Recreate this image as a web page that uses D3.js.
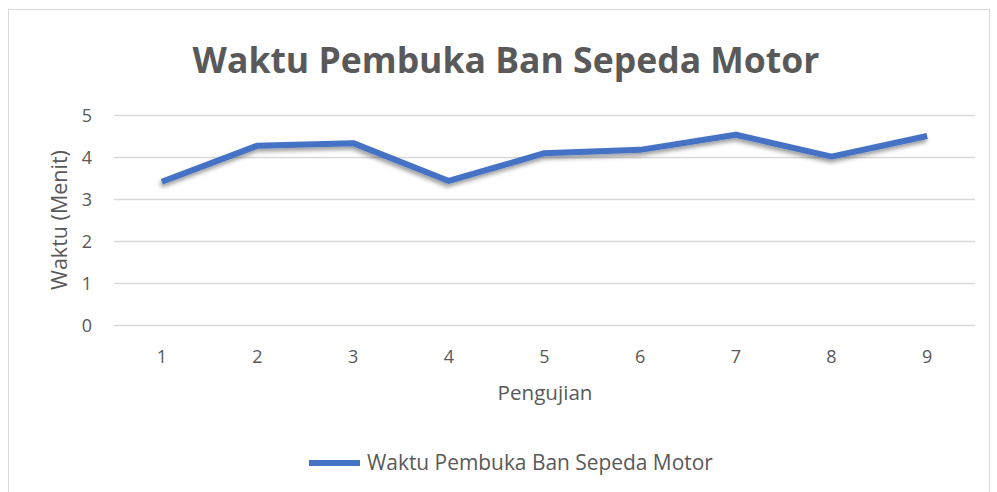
<!DOCTYPE html>
<html>
<head>
<meta charset="utf-8">
<script src="https://cdn.jsdelivr.net/npm/d3@7"></script>
<style>
  body { margin: 0; background: #fff; }
  text { font-family: "Open Sans", "Liberation Sans", sans-serif; fill: #595959; }
</style>
</head>
<body>
<svg id="chart" width="997" height="492"></svg>
<script>
// data
var categories = ["1", "2", "3", "4", "5", "6", "7", "8", "9"];
var waktu = [3.41, 4.27, 4.33, 3.43, 4.09, 4.17, 4.53, 4.01, 4.50];
var yTicks = [0, 1, 2, 3, 4, 5];
var seriesName = "Waktu Pembuka Ban Sepeda Motor";
var chartTitle = "Waktu Pembuka Ban Sepeda Motor";
var xTitle = "Pengujian";
var yTitle = "Waktu (Menit)";

var plot = {left: 114, right: 975, top: 115, bottom: 325};

var svg = d3.select("#chart");

/// drop shadow for the line
var defs = svg.append("defs");
var f = defs.append("filter").attr("id", "shadow")
    .attr("x", "-5%").attr("y", "-20%").attr("width", "110%").attr("height", "160%");
f.append("feDropShadow").attr("dx", -1).attr("dy", 3).attr("stdDeviation", 2)
    .attr("flood-color", "#000").attr("flood-opacity", 0.4);

/// chart border
svg.append("rect")
    .attr("x", 8.5).attr("y", 9.5).attr("width", 981).attr("height", 490)
    .attr("fill", "#fff").attr("stroke", "#d9d9d9").attr("stroke-width", 1);

var x = d3.scaleBand().domain(categories).range([plot.left, plot.right]);
var y = d3.scaleLinear().domain([0, 5]).range([plot.bottom, plot.top]);

/// gridlines
svg.append("g").selectAll("line").data(yTicks).enter().append("line")
    .attr("x1", plot.left).attr("x2", plot.right)
    .attr("y1", d => Math.round(y(d)) + 0.5).attr("y2", d => Math.round(y(d)) + 0.5)
    .attr("stroke", "#d9d9d9").attr("stroke-width", 1.3);

/// y axis labels
var yAxis = svg.append("g").attr("transform", "translate(" + (plot.left - 22) + ",0)")
    .call(d3.axisLeft(y).tickValues(yTicks).tickFormat(d3.format("d")).tickSize(0).tickPadding(0));
yAxis.select(".domain").remove();
yAxis.selectAll("text").attr("font-size", 18).attr("dy", "0.35em")
    .style("font-family", "\"Open Sans\", sans-serif").attr("fill", "#595959");

/// x axis labels
var xAxis = svg.append("g").attr("transform", "translate(0," + (plot.bottom + 25) + ")")
    .call(d3.axisBottom(x).tickSize(0).tickPadding(0));
xAxis.select(".domain").remove();
xAxis.selectAll("text").attr("font-size", 18).attr("dy", "0.71em")
    .style("font-family", "\"Open Sans\", sans-serif").attr("fill", "#595959");

/// line
var line = d3.line()
    .x((d, i) => x(categories[i]) + x.bandwidth() / 2)
    .y(d => y(d));

svg.append("path").datum(waktu)
    .attr("d", line)
    .attr("fill", "none")
    .attr("stroke", "#4472c4")
    .attr("stroke-width", 6)
    .attr("stroke-linejoin", "round")
    .attr("filter", "url(#shadow)");

/// fits a text to a measured width from the reference
function fitWidth(sel, target) {
    var w = sel.node().getComputedTextLength();
    var fs = parseFloat(sel.attr("font-size"));
    sel.attr("font-size", fs * target / w);
}

/// title
var t = svg.append("text").attr("x", 506).attr("y", 73)
    .attr("text-anchor", "middle").attr("font-size", 36).attr("font-weight", "bold")
    .text(chartTitle);
fitWidth(t, 627);

/// axis titles
var xt = svg.append("text").attr("x", 545).attr("y", 400)
    .attr("text-anchor", "middle").attr("font-size", 18).text(xTitle);
fitWidth(xt, 95);

var yt = svg.append("text")
    .attr("transform", "translate(67,220) rotate(-90)")
    .attr("text-anchor", "middle").attr("font-size", 18).text(yTitle);
fitWidth(yt, 140);

/// legend
svg.append("line").attr("x1", 309).attr("x2", 360).attr("y1", 463).attr("y2", 463)
    .attr("stroke", "#4472c4").attr("stroke-width", 6);
var lt = svg.append("text").attr("x", 367).attr("y", 470)
    .attr("font-size", 18).text(seriesName);
fitWidth(lt, 346);
</script>
</body>
</html>
